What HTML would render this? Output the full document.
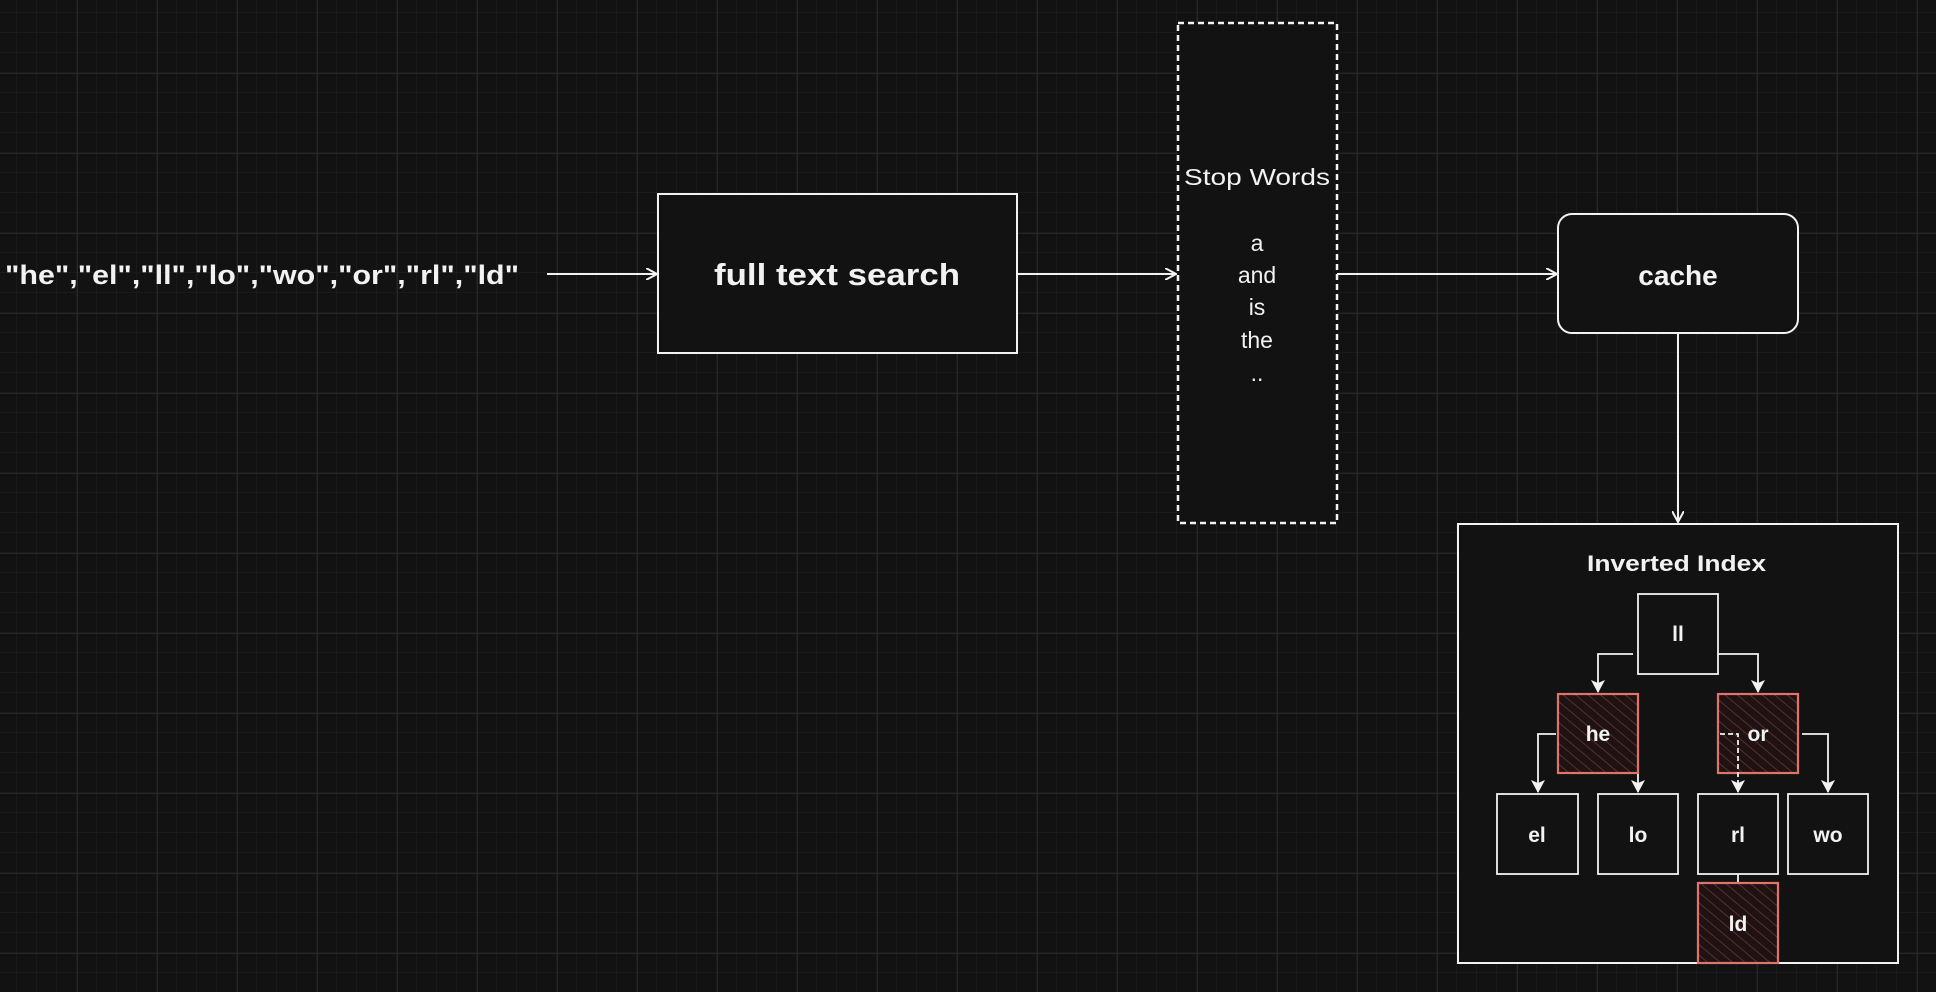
<!DOCTYPE html>
<html><head><meta charset="utf-8"><style>
html,body{margin:0;padding:0;background:#121212;}
svg{display:block}
text{font-family:"Comic Sans MS","Liberation Sans",sans-serif;fill:#f2f2f2}
</style></head><body>
<svg width="1936" height="992" viewBox="0 0 1936 992" xmlns="http://www.w3.org/2000/svg">
<defs>
<pattern id="minor" width="20" height="20" patternUnits="userSpaceOnUse" x="17" y="13">
<path d="M20 0V20M0 20H20" stroke="#1d1d1d" stroke-width="1.5" fill="none"/></pattern>
<pattern id="major" width="80" height="80" patternUnits="userSpaceOnUse" x="77" y="73">
<path d="M0 0V80M0 0H80" stroke="#2e2e2e" stroke-width="1.5" fill="none"/></pattern>
<pattern id="hatch" width="8" height="8" patternUnits="userSpaceOnUse" patternTransform="rotate(-50)">
<rect width="8" height="8" fill="#1e1312"/>
<line x1="0" y1="0" x2="0" y2="8" stroke="#6a3431" stroke-width="1.6"/></pattern>
<marker id="ah" markerWidth="12" markerHeight="12" refX="10" refY="6" orient="auto" markerUnits="userSpaceOnUse">
<path d="M0 0L11 6L0 12" fill="none" stroke="#f2f2f2" stroke-width="2"/></marker>
<marker id="ahs" markerWidth="14" markerHeight="14" refX="12" refY="7" orient="auto" markerUnits="userSpaceOnUse">
<path d="M0 0L13 7L0 14L3 7Z" fill="#f2f2f2"/></marker>
</defs>
<rect width="1936" height="992" fill="#121212"/>
<rect width="1936" height="992" fill="url(#minor)"/>
<rect width="1936" height="992" fill="url(#major)"/>

<g stroke="#f2f2f2" stroke-width="2" fill="none">
<line x1="547" y1="274" x2="656" y2="274" marker-end="url(#ah)"/>
<line x1="1017" y1="274" x2="1175" y2="274" marker-end="url(#ah)"/>
<line x1="1337" y1="274" x2="1556" y2="274" marker-end="url(#ah)"/>
<line x1="1678" y1="333" x2="1678" y2="521" marker-end="url(#ah)"/>
</g>

<text x="5" y="284" font-size="27" font-weight="bold" textLength="514" lengthAdjust="spacingAndGlyphs">"he","el","ll","lo","wo","or","rl","ld"</text>

<rect x="658" y="194" width="359" height="159" fill="#121212" stroke="#f2f2f2" stroke-width="2"/>
<text x="714" y="285" font-size="31" font-weight="bold" textLength="246" lengthAdjust="spacingAndGlyphs">full text search</text>

<rect x="1178" y="23" width="159" height="500" fill="#121212" stroke="#f2f2f2" stroke-width="2.5" stroke-dasharray="6 4"/>
<g font-size="23" text-anchor="middle">
<text x="1257" y="185" textLength="146" lengthAdjust="spacingAndGlyphs">Stop Words</text>
<text x="1257" y="251">a</text>
<text x="1257" y="283">and</text>
<text x="1257" y="315">is</text>
<text x="1257" y="348">the</text>
<text x="1257" y="381">..</text>
</g>

<rect x="1558" y="214" width="240" height="119" rx="14" fill="#121212" stroke="#f2f2f2" stroke-width="2"/>
<text x="1678" y="285" font-size="28" font-weight="bold" text-anchor="middle">cache</text>

<rect x="1458" y="524" width="440" height="439" fill="#121212" stroke="#f2f2f2" stroke-width="2"/>
<text x="1587" y="571" font-size="22" font-weight="bold" textLength="179" lengthAdjust="spacingAndGlyphs">Inverted Index</text>

<g stroke="#f2f2f2" stroke-width="1.8" fill="#121212">
<rect x="1638" y="594" width="80" height="80"/>
<rect x="1497" y="794" width="81" height="80"/>
<rect x="1598" y="794" width="80" height="80"/>
<rect x="1698" y="794" width="80" height="80"/>
<rect x="1788" y="794" width="80" height="80"/>
</g>
<g stroke="#e0736c" stroke-width="2.2" fill="url(#hatch)">
<rect x="1558" y="694" width="80" height="79"/>
<rect x="1718" y="694" width="80" height="79"/>
<rect x="1698" y="883" width="80" height="80"/>
</g>

<g stroke="#f2f2f2" stroke-width="1.8" fill="none">
<path d="M1633 654H1598V692" marker-end="url(#ahs)"/>
<path d="M1718 654H1758V692" marker-end="url(#ahs)"/>
<path d="M1556 734H1538V792" marker-end="url(#ahs)"/>
<path d="M1638 774V792" marker-end="url(#ahs)"/>
<path d="M1720 734H1738V792" stroke-dasharray="5 3" marker-end="url(#ahs)"/>
<path d="M1802 734H1828V792" marker-end="url(#ahs)"/>
<path d="M1738 874V882"/>
</g>

<g font-size="21" font-weight="bold" text-anchor="middle">
<text x="1678" y="641">ll</text>
<text x="1598" y="741">he</text>
<text x="1758" y="741">or</text>
<text x="1537" y="842">el</text>
<text x="1638" y="842">lo</text>
<text x="1738" y="842">rl</text>
<text x="1828" y="842">wo</text>
<text x="1738" y="931">ld</text>
</g>
</svg>
</body></html>
